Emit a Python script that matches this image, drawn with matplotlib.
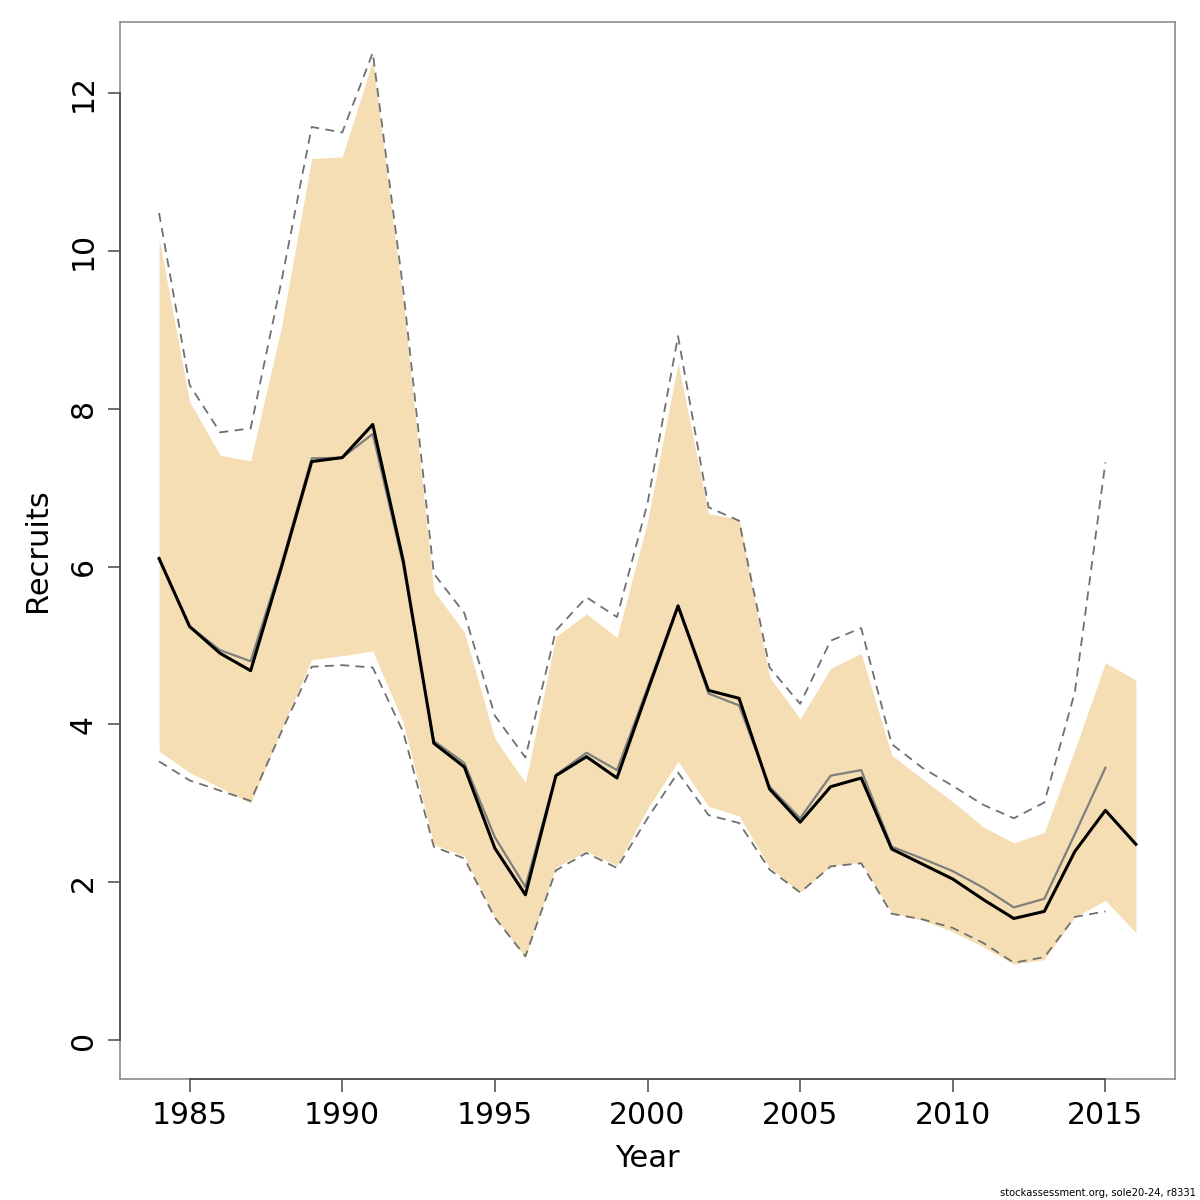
import matplotlib
matplotlib.use("Agg")
import matplotlib.pyplot as plt
import numpy as np

years = list(range(1984, 2017))
recruits = [6.10, 5.24, 4.90, 4.68, 5.98, 7.33, 7.38, 7.80, 6.07, 3.76, 3.46, 2.43, 1.84,
            3.35, 3.59, 3.32, 4.42, 5.50, 4.43, 4.33, 3.18, 2.76, 3.21, 3.32, 2.42, 2.23,
            2.04, 1.78, 1.54, 1.63, 2.39, 2.91, 2.48]
ci_low = [3.66, 3.39, 3.20, 3.00, 3.92, 4.82, 4.87, 4.93, 4.02, 2.48, 2.33, 1.55, 1.05,
          2.19, 2.39, 2.21, 2.93, 3.53, 2.96, 2.84, 2.19, 1.87, 2.21, 2.25, 1.61, 1.52,
          1.37, 1.18, 0.96, 1.02, 1.56, 1.77, 1.36]
ci_high = [10.16, 8.09, 7.41, 7.34, 9.02, 11.17, 11.19, 12.41, 9.35, 5.69, 5.17, 3.82, 3.26,
           5.11, 5.40, 5.10, 6.57, 8.58, 6.67, 6.60, 4.60, 4.07, 4.71, 4.90, 3.61, 3.31,
           3.02, 2.70, 2.50, 2.63, 3.68, 4.78, 4.56]

prev_years = list(range(1984, 2016))
prev_recruits = [6.11, 5.24, 4.94, 4.80, 6.02, 7.37, 7.38, 7.68, 6.02, 3.79, 3.51, 2.57, 1.94,
                 3.36, 3.64, 3.42, 4.46, 5.51, 4.39, 4.24, 3.21, 2.81, 3.35, 3.42, 2.45, 2.30,
                 2.14, 1.93, 1.68, 1.79, 2.61, 3.45]
prev_high = [10.48, 8.30, 7.70, 7.75, 9.60, 11.57, 11.50, 12.51, 9.50, 5.91, 5.41, 4.11, 3.58,
             5.19, 5.61, 5.36, 6.80, 8.92, 6.75, 6.58, 4.72, 4.26, 5.06, 5.22, 3.75, 3.45,
             3.22, 2.98, 2.81, 3.01, 4.41, 7.32]
prev_low = [3.53, 3.29, 3.16, 3.03, 3.90, 4.73, 4.75, 4.72, 3.90, 2.45, 2.30, 1.55, 1.06,
            2.15, 2.37, 2.18, 2.81, 3.39, 2.85, 2.75, 2.16, 1.87, 2.20, 2.24, 1.60, 1.53,
            1.42, 1.23, 0.98, 1.05, 1.56, 1.63]

xticks = [1985, 1990, 1995, 2000, 2005, 2010, 2015]
yticks = [0, 2, 4, 6, 8, 10, 12]

fig = plt.figure(figsize=(12, 12), dpi=100)
ax = fig.add_axes([120 / 1200, 1 - 1079 / 1200, (1175 - 120) / 1200, (1079 - 22) / 1200])

ax.fill_between(years, ci_low, ci_high, color="#F5DEB3", linewidth=0, zorder=1)
ax.plot(prev_years, prev_high, color="#707070", lw=1.3, ls=(0, (5, 3.5)), zorder=2)
ax.plot(prev_years, prev_low, color="#707070", lw=1.3, ls=(0, (5, 3.5)), zorder=2)
ax.plot(prev_years, prev_recruits, color="#7f7f7f", lw=1.6, zorder=3)
ax.plot(years, recruits, color="black", lw=2.2, zorder=4)

ax.set_xlim(1982.72, 2017.28)
ax.set_ylim(-0.494, 12.90)

for s in ax.spines.values():
    s.set_color("#8c8c8c")
    s.set_linewidth(1.2)

ax.set_xticks(xticks)
ax.set_yticks(yticks)
ax.tick_params(axis="both", direction="out", length=9, width=1.2, color="#555555",
               labelsize=21.5, pad=7)
ax.set_yticklabels([str(v) for v in yticks], rotation=90, va="center")

# darker axis lines over tick range (R style)
ax.plot([xticks[0], xticks[-1]], [-0.494, -0.494], color="#555555", lw=1.4,
        clip_on=False, zorder=5)
ax.plot([1982.72, 1982.72], [yticks[0], yticks[-1]], color="#555555", lw=1.4,
        clip_on=False, zorder=5)

ax.set_xlabel("Year", fontsize=22, labelpad=10)
ax.set_ylabel("Recruits", fontsize=22, labelpad=12)

fig.text(0.997, 0.002, "stockassessment.org, sole20-24, r8331", ha="right", va="bottom",
         fontsize=7.2)

fig.savefig("out.png", dpi=100)
